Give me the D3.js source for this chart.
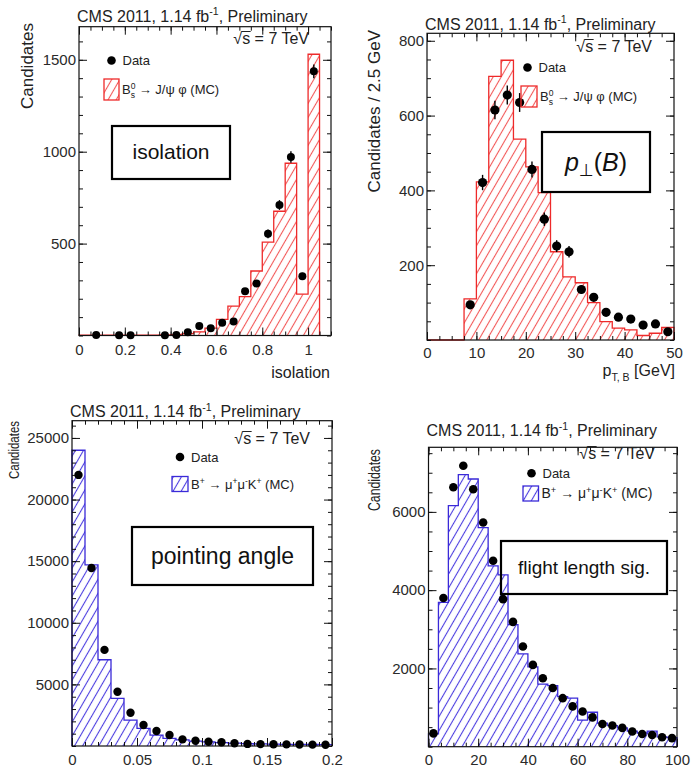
<!DOCTYPE html>
<html>
<head>
<meta charset="utf-8">
<script src="https://cdn.jsdelivr.net/npm/d3@7"></script>
<style>
  body { margin: 0; background: #fff; }
  svg { display: block; }
  text { font-family: "Liberation Sans", Arial, sans-serif; }
</style>
</head>
<body>
<svg id="chart" width="691" height="768"></svg>
<script>
// ---------- isolation ----------
const isoBinWidth = 0.05;
const isoMC   = [2, 2, 2, 2, 2, 2, 2, 3, 5, 10, 20, 40, 88, 160, 211, 351, 508, 676, 937, 225, 1530];
const isoData = [null, 3, null, 2, 2, null, null, 2, 3, 18, 52, 40, 70, 76, 241, 283, 553, 710, 971, 323, 1437];
const isoXTicks = [0, 0.2, 0.4, 0.6, 0.8, 1];
const isoXLabels = ["0", "0.2", "0.4", "0.6", "0.8", "1"];
const isoYTicks = [500, 1000, 1500];

// ---------- B transverse momentum ----------
const ptBinWidth = 2.5;
const ptMC   = [0, 0, 0, 110, 423, 705, 748, 537, 463, 394, 236, 169, 153, 100, 49, 32, 27, 12, 18, 34];
const ptData = [null, null, null, 94, 421, 615, 655, 635, 456, 323, 251, 236, 135, 114, 74, 61, 56, 40, 43, 22];
const ptXTicks = [0, 10, 20, 30, 40, 50];
const ptXLabels = ["0", "10", "20", "30", "40", "50"];
const ptYTicks = [200, 400, 600, 800];

// ---------- pointing angle ----------
const angBinWidth = 0.01;
const angMC   = [24000, 14700, 7000, 3870, 2100, 1430, 890, 620, 490, 400, 330, 280, 240, 200, 180, 160, 140, 130, 120, 110];
const angData = [22000, 14450, 7800, 4400, 2700, 1700, 1215, 890, 540, 430, 350, 300, 220, 170, 150, 140, 130, 120, 110, 100];
const angXTicks = [0, 0.05, 0.1, 0.15, 0.2];
const angXLabels = ["0", "0.05", "0.1", "0.15", "0.2"];
const angYTicks = [5000, 10000, 15000, 20000, 25000];

// ---------- flight length significance ----------
const flBinWidth = 4;
const flMC   = [330, 3690, 6160, 6950, 6840, 5600, 4620, 4390, 3120, 2370, 2040, 1600, 1560, 1280, 1240, 680, 880, 600, 540, 480, 400, 350, 400, 250, 230];
const flData = [340, 3800, 6630, 7180, 6580, 5730, 4750, 3770, 3190, 2560, 2090, 1750, 1500, 1240, 1030, 900, 750, 580, 540, 480, 390, 325, 300, 240, 220];
const flXTicks = [0, 20, 40, 60, 80, 100];
const flXLabels = ["0", "20", "40", "60", "80", "100"];
const flYTicks = [2000, 4000, 6000];

const RED = "#ee2a2a", RED_HATCH = "#f25858";
const BLUE = "#3a2ad8", BLUE_HATCH = "#4c3ee0";

const svg = d3.select("#chart");
const defs = svg.append("defs");

function hatch(id, color) {
  const p = defs.append("pattern")
    .attr("id", id)
    .attr("patternUnits", "userSpaceOnUse")
    .attr("width", 7).attr("height", 7)
    .attr("patternTransform", "rotate(30)");
  p.append("line")
    .attr("x1", 3.5).attr("y1", -1).attr("x2", 3.5).attr("y2", 8)
    .attr("stroke", color).attr("stroke-width", 1.1);
}
hatch("hatchRed", RED_HATCH);
hatch("hatchBlue", BLUE_HATCH);

// text with super/subscript segments: [string, shift] (shift: 1 sup, -1 sub, 0 normal)
function rich(sel, parts, size) {
  let cur = 0;
  parts.forEach(([s, m]) => {
    const target = m === 1 ? -0.38 * size : m === -1 ? 0.3 * size : 0;
    const t = sel.append("tspan").text(s).attr("dy", target - cur);
    if (m !== 0) t.attr("font-size", size * 0.66);
    cur = target;
  });
}

function drawPanel(o) {
  const g = svg.append("g");
  const x = d3.scaleLinear().domain(o.xDomain).range([o.left, o.right]);
  const y = d3.scaleLinear().domain(o.yDomain).range([o.bottom, o.top]);
  const n = o.mc.length;

  // simulated histogram: hatched step outline
  const pts = [{ x: 0, v: 0 }]
    .concat(o.mc.map((v, i) => ({ x: i * o.bw, v })))
    .concat([{ x: n * o.bw, v: o.mc[n - 1] }, { x: n * o.bw, v: 0 }]);
  const step = d3.line().x(d => x(d.x)).y(d => y(d.v)).curve(d3.curveStepAfter);
  g.append("path")
    .attr("d", step(pts))
    .attr("fill", `url(#${o.hatch})`)
    .attr("stroke", o.color)
    .attr("stroke-width", 1.3);

  // axes with inward ticks on all four sides
  const minorX = d3.range(o.xDomain[0], o.xDomain[1] + 1e-9, o.xMinor);
  const minorY = d3.range(0, o.yDomain[1] + 1e-9, o.yMinor);
  const style = s => {
    s.select(".domain").remove();
    s.selectAll("line").attr("stroke", "#111");
    s.selectAll("text").attr("font-size", 15).attr("fill", "#2a2a2a")
      .attr("font-family", "'Liberation Sans', Arial, sans-serif");
  };
  g.append("g").attr("transform", `translate(0,${o.bottom})`)
    .call(d3.axisBottom(x).tickValues(o.xTicks).tickSize(-8).tickPadding(o.xPad)
      .tickFormat((d, i) => o.xLabels[i])).call(style);
  g.append("g").attr("transform", `translate(0,${o.bottom})`)
    .call(d3.axisBottom(x).tickValues(minorX).tickSize(-4).tickFormat("")).call(style);
  g.append("g").attr("transform", `translate(0,${o.top})`)
    .call(d3.axisTop(x).tickValues(o.xTicks).tickSize(-8).tickFormat("")).call(style);
  g.append("g").attr("transform", `translate(0,${o.top})`)
    .call(d3.axisTop(x).tickValues(minorX).tickSize(-4).tickFormat("")).call(style);
  g.append("g").attr("transform", `translate(${o.left},0)`)
    .call(d3.axisLeft(y).tickValues(o.yTicks).tickSize(-8).tickPadding(3)
      .tickFormat(d3.format("d"))).call(style);
  g.append("g").attr("transform", `translate(${o.left},0)`)
    .call(d3.axisLeft(y).tickValues(minorY).tickSize(-4).tickFormat("")).call(style);
  g.append("g").attr("transform", `translate(${o.right},0)`)
    .call(d3.axisRight(y).tickValues(o.yTicks).tickSize(-8).tickFormat("")).call(style);
  g.append("g").attr("transform", `translate(${o.right},0)`)
    .call(d3.axisRight(y).tickValues(minorY).tickSize(-4).tickFormat("")).call(style);

  g.append("rect")
    .attr("x", o.left).attr("y", o.top)
    .attr("width", o.right - o.left).attr("height", o.bottom - o.top)
    .attr("fill", "none").attr("stroke", "#111").attr("stroke-width", 1.2);

  // data points with statistical error bars
  const pts2 = o.data.map((v, i) => ({ c: (i + 0.5) * o.bw, v })).filter(d => d.v !== null);
  g.selectAll("line.err").data(pts2).join("line")
    .attr("x1", d => x(d.c)).attr("x2", d => x(d.c))
    .attr("y1", d => y(d.v - Math.sqrt(d.v))).attr("y2", d => y(d.v + Math.sqrt(d.v)))
    .attr("stroke", "#000").attr("stroke-width", 1.4);
  g.selectAll("circle.pt").data(pts2).join("circle")
    .attr("cx", d => x(d.c)).attr("cy", d => y(d.v)).attr("r", o.r)
    .attr("fill", "#000");

  // header
  const title = g.append("text").attr("x", o.left - 2).attr("y", o.titleY)
    .attr("font-size", 16).attr("fill", "#222");
  rich(title, [["CMS 2011, 1.14 fb", 0], ["-1", 1], [", Preliminary", 0]], 16);

  const rs = g.append("text").attr("x", o.right - 22).attr("y", o.rsY)
    .attr("text-anchor", "end").attr("font-size", 16).attr("fill", "#222")
    .text("\u221As = 7 TeV");
  const node = rs.node();
  const s1 = node.getEndPositionOfChar(1);
  const rootStart = node.getStartPositionOfChar(0);
  g.append("line")
    .attr("x1", rootStart.x + 8).attr("x2", s1.x + 0.5)
    .attr("y1", o.rsY - 12.5).attr("y2", o.rsY - 12.5)
    .attr("stroke", "#222").attr("stroke-width", 1);

  // legend
  g.append("circle").attr("cx", o.leg.dx).attr("cy", o.leg.dy).attr("r", 4.3).attr("fill", "#000");
  g.append("text").attr("x", o.leg.dx + 11).attr("y", o.leg.dy + 4.5)
    .attr("font-size", 13).attr("fill", "#222").text("Data");
  g.append("rect").attr("x", o.leg.bx).attr("y", o.leg.by).attr("width", o.leg.bw).attr("height", o.leg.bh)
    .attr("fill", `url(#${o.hatch})`).attr("stroke", o.color).attr("stroke-width", 1.3);
  const lt = g.append("text").attr("x", o.leg.bx + o.leg.bw + 3).attr("y", o.leg.ty)
    .attr("font-size", o.leg.size).attr("fill", "#222");
  o.leg.text(lt, o.leg.size);

  // axis titles
  const yt = g.append("text")
    .attr("transform", `translate(${o.yTitle.x},${o.yTitle.y}) rotate(-90)`)
    .attr("text-anchor", "end").attr("font-size", o.yTitle.size).attr("fill", "#222")
    .text(o.yTitle.text);
  if (o.yTitle.len) yt.attr("textLength", o.yTitle.len).attr("lengthAdjust", "spacingAndGlyphs");
  if (o.xTitle) o.xTitle(g);

  // variable name box
  g.append("rect").attr("x", o.box.x).attr("y", o.box.y).attr("width", o.box.w).attr("height", o.box.h)
    .attr("fill", o.box.fill).attr("stroke", "#000").attr("stroke-width", 2.2);
  o.box.label(g, o.box.x + o.box.w / 2, o.box.y + o.box.h / 2);
}

// B_s^0 with stacked sub/superscript
function bsLegend(t, s) {
  t.append("tspan").text("B");
  t.append("tspan").attr("dy", -0.38 * s).attr("font-size", s * 0.66).text("0");
  t.append("tspan").attr("dx", -s * 0.36).attr("dy", 0.68 * s).attr("font-size", s * 0.66).text("s");
  t.append("tspan").attr("dy", -0.3 * s).text(" \u2192 J/\u03C8 \u03C6 (MC)");
}
const bpLegend = (t, s) => rich(t, [["B", 0], ["+", 1], [" \u2192 \u03BC", 0], ["+", 1], ["\u03BC", 0], ["-", 1], ["K", 0], ["+", 1], [" (MC)", 0]], s);

const sansLabel = (text, size) => (g, cx, cy) => g.append("text")
  .attr("x", cx).attr("y", cy).attr("dy", "0.33em").attr("text-anchor", "middle")
  .attr("font-family", "Lato, 'Open Sans', sans-serif").attr("font-size", size).attr("fill", "#111")
  .text(text);

drawPanel({
  left: 79, right: 331, top: 26.7, bottom: 335.5,
  xDomain: [0, 1.1], yDomain: [0, 1680],
  xTicks: isoXTicks, xLabels: isoXLabels, xMinor: 0.05, xPad: 9,
  yTicks: isoYTicks, yMinor: 100,
  bw: isoBinWidth, mc: isoMC, data: isoData, r: 4,
  color: RED, hatch: "hatchRed",
  titleY: 21.5, rsY: 44,
  leg: { dx: 111.5, dy: 60.5, bx: 104, by: 79, bw: 15, bh: 21, ty: 94, size: 13, text: bsLegend },
  yTitle: { x: 33, y: 23, size: 17, text: "Candidates" },
  xTitle: g => g.append("text").attr("x", 330).attr("y", 378).attr("text-anchor", "end")
    .attr("font-size", 16).attr("fill", "#222").text("isolation"),
  box: { x: 112, y: 126, w: 118, h: 53, fill: "#fff", label: sansLabel("isolation", 21) }
});

drawPanel({
  left: 427, right: 674, top: 33.3, bottom: 340,
  xDomain: [0, 50], yDomain: [0, 820],
  xTicks: ptXTicks, xLabels: ptXLabels, xMinor: 2.5, xPad: 7,
  yTicks: ptYTicks, yMinor: 50,
  bw: ptBinWidth, mc: ptMC, data: ptData, r: 4.6,
  color: RED, hatch: "hatchRed",
  titleY: 29.5, rsY: 52,
  leg: { dx: 527.5, dy: 67.5, bx: 521, by: 86, bw: 16, bh: 21, ty: 101, size: 13, text: bsLegend },
  yTitle: { x: 380, y: 30, size: 17, text: "Candidates / 2.5 GeV" },
  xTitle: g => {
    const t = g.append("text").attr("x", 675).attr("y", 376).attr("text-anchor", "end")
      .attr("font-size", 16).attr("fill", "#222");
    rich(t, [["p", 0], ["T, B", -1], [" [GeV]", 0]], 16);
  },
  box: { x: 542, y: 132, w: 108, h: 60, fill: "#fff",
    label: (g, cx, cy) => {
      const t = g.append("text").attr("x", cx).attr("y", cy + 9).attr("text-anchor", "middle")
        .attr("font-family", "'Liberation Serif', 'DejaVu Serif', serif").attr("font-size", 25).attr("fill", "#111");
      t.append("tspan").attr("font-style", "italic").text("p");
      t.append("tspan").attr("font-size", 17).attr("dy", 5).attr("font-family", "'DejaVu Sans', sans-serif").text("\u22A5");
      t.append("tspan").attr("dy", -5).text("(");
      t.append("tspan").attr("font-style", "italic").text("B");
      t.append("tspan").text(")");
    } }
});

drawPanel({
  left: 72, right: 332, top: 420.7, bottom: 746,
  xDomain: [0, 0.2], yDomain: [0, 26400],
  xTicks: angXTicks, xLabels: angXLabels, xMinor: 0.01, xPad: 8,
  yTicks: angYTicks, yMinor: 1000,
  bw: angBinWidth, mc: angMC, data: angData, r: 4.2,
  color: BLUE, hatch: "hatchBlue",
  titleY: 416.7, rsY: 444,
  leg: { dx: 180, dy: 457, bx: 172, by: 476.5, bw: 16, bh: 15, ty: 488.5, size: 13, text: bpLegend },
  yTitle: { x: 19, y: 421, size: 15, text: "Candidates", len: 58 },
  box: { x: 132, y: 527, w: 181, h: 58, fill: "#fff", label: sansLabel("pointing angle", 23) }
});

drawPanel({
  left: 428.5, right: 677, top: 447.3, bottom: 746.7,
  xDomain: [0, 100], yDomain: [0, 7650],
  xTicks: flXTicks, xLabels: flXLabels, xMinor: 5, xPad: 8,
  yTicks: flYTicks, yMinor: 500,
  bw: flBinWidth, mc: flMC, data: flData, r: 4.3,
  color: BLUE, hatch: "hatchBlue",
  titleY: 436, rsY: 459,
  leg: { dx: 531.5, dy: 473.3, bx: 523, by: 486, bw: 15.5, bh: 15, ty: 498, size: 14, text: bpLegend },
  yTitle: { x: 380, y: 449, size: 16, text: "Candidates", len: 62 },
  box: { x: 501, y: 541, w: 166, h: 53, fill: "none", label: sansLabel("flight length sig.", 19) }
});
</script>
</body>
</html>
